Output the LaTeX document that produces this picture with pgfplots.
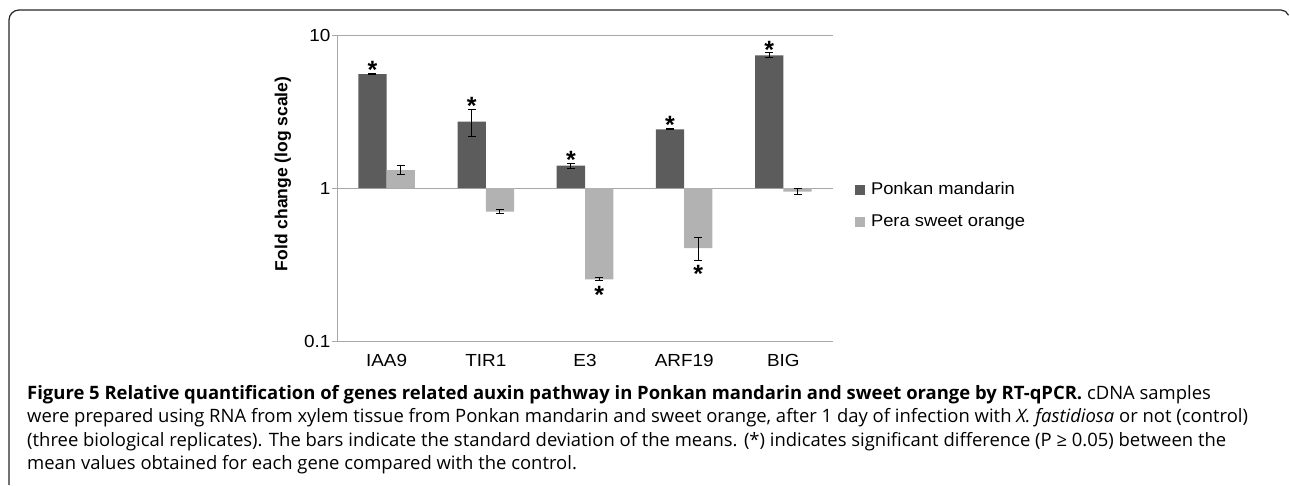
\documentclass[border=0pt]{standalone}
\usepackage{fontspec}
\usepackage{pgfplots}
\pgfplotsset{compat=1.18}
\setmainfont{Liberation Sans}
\newfontfamily\chartfont[FakeStretch=1.08]{Liberation Sans}
\newfontfamily\capfont{Open Sans}
\definecolor{darkbar}{HTML}{5C5C5C}
\definecolor{lightbar}{HTML}{B2B2B2}
\definecolor{axgray}{HTML}{A8A8A8}
\begin{document}
\begin{tikzpicture}
\useasboundingbox (0pt,0pt) rectangle (1290pt,485pt);
% frame
\draw[line width=1.2pt, black!85] (9pt,0pt) -- (9pt,465pt) arc[start angle=180,end angle=90,radius=10pt] -- (1281pt,475pt) arc[start angle=90,end angle=20,radius=8pt];
\begin{axis}[
  at={(337pt,144pt)}, anchor=south west, scale only axis,
  width=496pt, height=306pt,
  ymode=log, ymin=0.1, ymax=10, log origin=0,
  xmin=-0.5, xmax=4.5,
  xtick={0,1,2,3,4}, xticklabels={IAA9,TIR1,E3,ARF19,BIG},
  ytick={0.1,1,10}, yticklabels={0.1,1,10},
  /pgf/number format/assume math mode=true,
  axis x line*=bottom, axis y line*=left,
  axis line style={axgray, line width=0.9pt},
  ymajorgrids, grid style={axgray, line width=0.9pt},
  x tick style={draw=none},
  y tick style={axgray, line width=0.9pt},
  tick align=outside, major tick length=5pt,
  minor y tick num=0, yminorticks=false,
  tick label style={font=\chartfont\fontsize{17.5}{20}\selectfont},
  xticklabel style={yshift=-5pt},
  yticklabel style={xshift=2pt},
  ylabel={Fold change (log scale)},
  every axis y label/.style={at={(rel axis cs:0,0.546)}, rotate=90, anchor=center, yshift=54pt,
    font=\bfseries\fontsize{17.5}{20}\selectfont},
  legend style={at={(rel axis cs:1.044,0.44)}, anchor=west, draw=none, fill=none,
    font=\chartfont\fontsize{17}{20}\selectfont, row sep=12pt, inner sep=0pt,
    nodes={inner sep=2pt, text height=12pt, text depth=4pt}},
  legend cell align=left,
  legend image code/.code={\fill[#1] (0pt,-5pt) rectangle (10pt,5pt); \path (14pt,0pt);},
  error bars/error bar style={black, line width=1pt},
  error bars/error mark options={rotate=90, mark size=4pt, black, line width=1pt},
]
\addplot[ybar, bar width=0.285, bar shift=0, fill=darkbar, draw=none,
  error bars/.cd, y dir=both, y explicit]
  coordinates {
  (-0.1425,5.56) +- (0,0.08)
  (0.8575,2.72) +- (0,0.56)
  (1.8575,1.40) +- (0,0.05)
  (2.8575,2.42) +- (0,0.02)
  (3.8575,7.37) +- (0,0.26)
  };
\addlegendentry{Ponkan mandarin}
\addplot[ybar, bar width=0.285, bar shift=0, fill=lightbar, draw=none,
  error bars/.cd, y dir=both, y explicit]
  coordinates {
  (0.1425,1.31) +- (0,0.09)
  (1.1425,0.701) +- (0,0.02)
  (2.1425,0.253) +- (0,0.006)
  (3.1425,0.405) +- (0,0.07)
  (4.1425,0.947) +- (0,0.04)
  };
\addlegendentry{Pera sweet orange}
% significance asterisks
\addplot[draw=none, mark=none, forget plot,
  nodes near coords, point meta=explicit symbolic,
  every node near coord/.style={anchor=center, inner sep=0pt, yshift=-5pt,
    font=\bfseries\fontsize{25}{25}\selectfont}]
  coordinates {
  (-0.1425,6.34) [*]
  (0.8575,3.70) [*]
  (1.8575,1.64) [*]
  (2.8575,2.78) [*]
  (3.8575,8.60) [*]
  (2.1425,0.215) [*]
  (3.1425,0.294) [*]
  };
\end{axis}
% caption
\begin{scope}[every node/.style={anchor=base west, inner sep=0pt, font=\capfont\fontsize{18.45}{20}\selectfont}]
\node at (27pt,85.5pt) {\textbf{Figure 5 Relative quantification of genes related auxin pathway in Ponkan mandarin and sweet orange by RT-qPCR.} cDNA samples};
\node at (27pt,62.2pt) {were prepared using RNA from xylem tissue from Ponkan mandarin and sweet orange, after 1 day of infection with \textit{X. fastidiosa} or not (control)};
\node at (27pt,38.9pt) {(three biological replicates). The bars indicate the standard deviation of the means. (*) indicates significant difference (P ≥ 0.05) between the};
\node at (27pt,15.6pt) {mean values obtained for each gene compared with the control.};
\end{scope}
\end{tikzpicture}
\end{document}
